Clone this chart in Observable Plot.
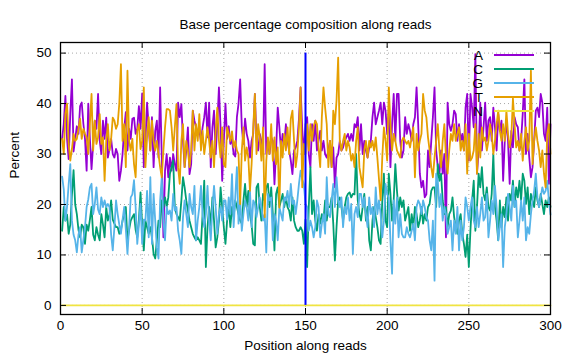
<!DOCTYPE html>
<html>
<head>
<meta charset="utf-8">
<script src="https://cdn.jsdelivr.net/npm/d3@7"></script>
<script src="https://cdn.jsdelivr.net/npm/@observablehq/plot@0.6"></script>
<style>
  html, body { margin: 0; padding: 0; background: #ffffff; }
  #chart { width: 576px; height: 360px; }
</style>
</head>
<body>
<div id="chart"></div>
<script>
// ---- Data ----
const titleText = "Base percentage composition along reads";
const xLabel = "Position along reads";
const yLabel = "Percent";
const baseNames = ["A", "C", "G", "T", "N"];
const baseColors = ["#9400d3", "#009e73", "#56b4e9", "#e69f00", "#f0e442"];
const xTicks = [0, 50, 100, 150, 200, 250, 300];
const yTicks = [0, 10, 20, 30, 40, 50];
const xDomain = [0, 300];
const yDomain = [-1.8, 52.1];
const markerPos = [150];
const markerRange = [0, 50];

const positions = d3.range(1, 301);

const aPct = [
  33, 36, 41.5, 33, 29, 38, 44.8, 30.5, 33, 35.5,
  34, 39.5, 40.2, 36, 33, 26.7, 40, 33, 27, 32,
  36.6, 35, 41.9, 32.7, 30, 36.6, 33, 37.2, 29.3, 31,
  33, 30, 29.3, 31, 30, 24.7, 26.7, 30, 35, 38.3,
  30.7, 35, 33, 37, 37.2, 34, 35, 39.5, 35, 42,
  27.4, 32.6, 40.2, 35.3, 30.7, 37.3, 27.4, 34.6, 36.6, 29.3,
  43.2, 29.3, 13.5, 26.7, 30, 25.4, 29.3, 26.7, 30, 28,
  26.7, 40.2, 37.3, 39.9, 32.6, 27.4, 30.7, 35.3, 26, 28,
  38.6, 36.6, 35.3, 34, 34.6, 32.6, 35.3, 37.3, 40.2, 33.3,
  40.2, 27.4, 35.3, 38.6, 30, 35.9, 43.2, 35.3, 24.7, 32.6,
  40, 33, 35.5, 32, 33, 30, 29.5, 37.3, 40, 44.8,
  35.3, 32, 37, 34, 32.6, 29.3, 32.6, 34, 41.9, 32.6,
  30.7, 34, 32.6, 30.7, 47.8, 30, 32.6, 30, 33.3, 32.6,
  24, 30.7, 39.2, 35.3, 30.7, 34, 32, 35.9, 32.6, 30.7,
  28.7, 26, 30.7, 31.3, 32.6, 37, 43.2, 35, 30, 35.9,
  37.3, 30, 27.4, 35.9, 32.6, 36.6, 30.7, 32.6, 34.6, 30.7,
  32.6, 30, 29.3, 30.7, 32.6, 27.4, 31.3, 23.4, 29.3, 30,
  32.6, 30.7, 31.3, 32.6, 33.3, 34, 32.6, 34, 32.6, 35.9,
  35.3, 37.3, 30.7, 35.9, 30, 32.6, 30.7, 29.3, 31.3, 32.6,
  37.3, 40.2, 35.9, 37.3, 38.6, 40.2, 35.9, 40.2, 38.6, 34,
  38.6, 27.4, 35.9, 41.9, 32.6, 41.9, 41.9, 32.6, 29.3, 30.7,
  37.3, 34, 35.9, 34.6, 32.6, 35.9, 37.3, 43.2, 35.9, 26.1,
  23.4, 24.7, 21.4, 22, 30.7, 27.4, 32.6, 37.3, 43.2, 30.7,
  27.4, 26.1, 30.7, 26.1, 30, 13.5, 40.2, 35.9, 34.6, 35.9,
  38.6, 37.9, 32.6, 35.9, 32.6, 34, 30.7, 39.2, 41.9, 28.7,
  41.9, 39.2, 35.3, 49.8, 26.1, 30.7, 40.2, 30.7, 35.3, 40.2,
  32.6, 36.6, 37.3, 32.6, 39.2, 35.3, 30.7, 37.9, 34.6, 36.6,
  24.7, 32.6, 36.6, 32.6, 24.1, 34.6, 31.3, 37.3, 35.9, 35.3,
  30.7, 32.6, 38, 44.8, 30, 34, 29.3, 25.4, 27.4, 32.6,
  38.6, 39.2, 37.3, 41.9, 40.2, 34, 32.6, 39.2, 24.1, 35.9
];

const cPct = [
  14.8, 19.5, 16.8, 18, 14.2, 16, 22, 26.8, 20, 18.1,
  15, 13.5, 16, 15.5, 12.2, 16, 14.8, 17, 19.5, 14,
  12.9, 15.5, 14, 12.9, 18.1, 16, 13.5, 19.5, 16.8, 18,
  20.8, 17, 16.2, 15.5, 15.5, 14.2, 15, 16.8, 18, 19.5,
  12.9, 15, 16.8, 17.5, 18.1, 15, 13.5, 17, 22.4, 16,
  10.9, 16.8, 15.5, 14.2, 15.5, 13.5, 10.2, 9.3, 12.9, 16.8,
  15.5, 20.8, 19.5, 21.4, 19.5, 21.4, 26.1, 27.4, 28.7, 19.5,
  18.1, 17.5, 16.8, 20.8, 25.4, 23.4, 20.8, 18.8, 16.8, 15.5,
  14.2, 13.5, 12.9, 13.5, 12.9, 12.2, 18.1, 24.7, 7.6, 15.5,
  19.5, 15.5, 21.4, 16.8, 11.5, 13.5, 16.8, 23.4, 19.5, 15.5,
  12.2, 16.8, 19.5, 15.5, 19.5, 17.5, 20.8, 19.5, 18.1, 16.8,
  16.2, 20.8, 24.1, 19.5, 22.7, 18.1, 16, 12.2, 11.9, 23.4,
  24.1, 19.5, 16.8, 22.1, 20.8, 23.4, 24.1, 19.5, 23.4, 18.1,
  10.9, 22.1, 23.4, 19.5, 20.8, 22.1, 19.5, 21.4, 19.5, 18.8,
  16.8, 21.4, 16.8, 15.5, 14.8, 14.8, 15.5, 14.8, 12.2, 17,
  7.6, 19.5, 27.4, 18.1, 20.8, 16.8, 14.8, 18.1, 16.2, 18.1,
  16.8, 20.8, 16.8, 19.5, 19.5, 21.4, 16.2, 8.9, 15.5, 20.8,
  21.4, 19.5, 16.8, 19.5, 21.4, 22.1, 22.4, 21.4, 22.1, 22,
  30, 20.8, 18.1, 16.8, 19.5, 22.1, 16.8, 19.5, 12.9, 10.9,
  16.8, 19.5, 17.5, 15.5, 12.9, 12.2, 20.8, 26.1, 16.8, 15.5,
  26.1, 22.1, 16.8, 20.8, 28, 22.7, 18.8, 21.4, 19.5, 20.8,
  16.8, 18.1, 19.5, 14.8, 18.1, 15.5, 19.5, 18.1, 15.5, 16.8,
  19.5, 16.2, 18.1, 16.8, 19.5, 20.1, 22.7, 23.4, 23.4, 19.5,
  28, 24.7, 26.1, 20.8, 18.1, 19.5, 15.5, 18.1, 18.8, 21.4,
  17.5, 15.5, 14.2, 16.8, 18.1, 14.2, 12.2, 9.6, 14, 7.6,
  15, 20.8, 24.7, 14.8, 19.5, 26.1, 23.4, 27.4, 22.1, 20.8,
  23.4, 19.5, 18.8, 22.1, 30, 19.5, 16.8, 12.9, 20.8, 15.5,
  19.5, 17.5, 21.4, 16.8, 22.1, 20.8, 24.7, 19.5, 23.4, 21.4,
  24.7, 20.8, 26.1, 24.7, 20.1, 23.4, 18.1, 22.1, 20.8, 19.5,
  23.4, 20.8, 19.5, 22.1, 20.1, 18.1, 20.8, 19.5, 21.4, 19.5
];

const gPct = [
  25.5, 23, 16.8, 19.5, 24, 28, 16.8, 14, 12.9, 10.5,
  14, 15.5, 10.5, 13, 15.5, 19.5, 21, 23.4, 24.1, 18.1,
  20.1, 23.4, 19, 18.1, 21.4, 19.5, 20.8, 19.5, 20.1, 19.5,
  14, 10.9, 15.5, 20.8, 18.1, 16, 14.2, 17, 19.5, 15,
  10.2, 15.5, 21.4, 22, 24.8, 19.5, 12.2, 16, 20.1, 12.2,
  17, 16.8, 22.7, 13.5, 25.4, 12.2, 22.1, 16.8, 11.5, 9.3,
  20.8, 25.4, 16.8, 12.9, 19.5, 18.1, 18.8, 16.8, 22.1, 18.8,
  19.5, 14.8, 12.9, 10.2, 17.5, 20.8, 18.1, 15.5, 22.1, 19.5,
  18.1, 23.7, 12.9, 16.8, 19.5, 23.7, 18.1, 15.5, 18.1, 23.7,
  16.8, 12.9, 19.5, 23.7, 19.5, 14.2, 18.1, 19.5, 16.8, 20.8,
  20.8, 17, 21.4, 18.1, 26, 15.5, 21.4, 27.4, 16.2, 20.8,
  14.8, 18.1, 20.8, 19.5, 16.8, 22.7, 15.5, 20.8, 20.1, 17.5,
  19.5, 21.4, 19.5, 16.8, 18.1, 10.5, 22.1, 20.8, 21.4, 12.9,
  18.1, 16.8, 12.9, 19.5, 18.1, 16.8, 21.4, 20.8, 22.7, 19.5,
  24.1, 20.1, 20.8, 18.1, 20.8, 24.1, 26.7, 25, 24, 20.1,
  19.5, 14.8, 16.8, 15.5, 13.5, 15.5, 20.8, 19.5, 13.5, 16.2,
  18.1, 14.2, 25.4, 18.1, 17.5, 20.8, 24.1, 19.5, 25.4, 20.8,
  19.5, 21.4, 15.5, 19.5, 18.1, 21.4, 16.8, 20.1, 10.2, 18.1,
  19.5, 17.5, 22.1, 22.1, 19.5, 21.4, 18.1, 15.5, 21.4, 18.1,
  19.5, 15.5, 23.4, 18.1, 20.8, 18.1, 13.5, 16.8, 24.1, 22,
  21.4, 12.9, 6.3, 20.8, 16.2, 21.4, 13.5, 18.1, 14.2, 13.5,
  13.5, 15.5, 14.2, 13.5, 14.8, 16.2, 12.9, 19.5, 20.8, 20.1,
  18.1, 20.8, 19.5, 17.5, 16.8, 12.9, 10.9, 16.8, 4.9, 26.1,
  24.7, 19.5, 22.1, 16.8, 19.5, 18.1, 14.2, 15.5, 16.8, 10.9,
  16.8, 14.2, 19.5, 10.9, 16.8, 12.9, 15.5, 21.4, 19.5, 16.8,
  19.5, 21.4, 16.8, 15.5, 19.5, 15.5, 18.1, 21.4, 16.8, 17.5,
  22.1, 13.5, 16.8, 20.8, 18.1, 23.7, 19.5, 12.9, 15.5, 18.1,
  7.6, 15.5, 18.1, 22.1, 19.5, 16.8, 23.7, 19.5, 20.8, 13.5,
  16.8, 20.8, 16.8, 21.4, 12.9, 15.5, 14.2, 18.1, 20.8, 22.7,
  26.1, 21.4, 19.5, 21.4, 23.4, 22.1, 22.7, 24.7, 20.8, 18
];

const tPct = [
  33, 30, 38, 40, 32, 28.7, 31, 34, 32.6, 33,
  35, 37, 33, 35, 34, 33.3, 30, 36, 41.9, 30.7,
  36.6, 32, 33.3, 37.9, 32, 33.3, 24.7, 32.6, 35.9, 30.7,
  33, 37.2, 36.6, 35, 35.9, 40, 47.8, 32.6, 35.9, 27.4,
  46.5, 32.6, 30.7, 33, 28, 25.4, 34.6, 35.9, 31, 32.6,
  43.2, 27.4, 33.3, 37.3, 30.7, 36.6, 32.6, 30.7, 32.6, 30,
  27.4, 25.4, 30.7, 35.3, 38.9, 38.9, 38.6, 35.3, 30.7, 35.3,
  39.9, 27.4, 24.1, 32.6, 35.9, 27.4, 32.6, 30.7, 27.4, 30.7,
  38.6, 30.7, 35.9, 32.6, 37.9, 30.7, 34.6, 30, 32.6, 35.3,
  32.6, 29.3, 32.6, 27.4, 34.6, 39.2, 32.6, 29.3, 35.3, 28,
  27.4, 35.3, 34, 32.6, 34.5, 31.3, 32.6, 30.7, 30, 20.1,
  30.7, 35.3, 28.7, 31.3, 29.3, 22.7, 28, 35.3, 41.9, 30,
  35.9, 33.3, 28.7, 35.3, 17.5, 28.7, 33.3, 30, 35.9, 28.7,
  33.3, 28, 31.3, 19.4, 32.6, 29.3, 34, 30.7, 35.3, 30,
  37, 38.6, 32.6, 27.4, 30, 35.3, 43.2, 23.4, 32, 30,
  35.9, 30.7, 35.9, 32.6, 35.5, 36.6, 35.9, 31.3, 27.4, 37.3,
  43.2, 39.2, 35.9, 27.4, 32.6, 27.4, 38.6, 35.9, 40.6, 49.1,
  32.6, 30.7, 32.6, 34, 30.7, 32.6, 31.3, 28.7, 30, 27.4,
  32.6, 35.3, 27.4, 25.4, 23.4, 30.7, 32.6, 29.3, 32.6, 31.3,
  32.6, 30.7, 33.3, 29.3, 25, 20.8, 29.3, 35.3, 32.6, 28.7,
  43.2, 35.9, 30.7, 34, 32.6, 30.7, 30, 29.3, 32.6, 33.3,
  32.6, 32, 32.6, 31.3, 33.3, 35.3, 25.4, 34, 30.7, 32.6,
  34, 41.9, 38.6, 37.3, 33.3, 30.7, 27.4, 25.4, 29.3, 32.6,
  35.9, 30.7, 27.4, 32.6, 35.9, 29.3, 26.1, 30.7, 34, 32.6,
  35.9, 32.6, 34, 35.3, 30.7, 32.6, 30.7, 35.9, 26.1, 34,
  28.7, 29.3, 30.7, 35.9, 26.1, 34, 29.3, 35.3, 32.6, 33.3,
  30.7, 32.6, 35.9, 34, 30, 32.6, 35.9, 38.6, 34.6, 32.6,
  35.9, 32.6, 38.6, 34, 31.3, 33.3, 41, 35.9, 31.3, 32.6,
  30.7, 34, 28.7, 32.6, 35.3, 30.7, 32.6, 46.5, 28, 32.6,
  35.3, 32.6, 30.7, 27.4, 30.7, 26.1, 23.4, 34, 35.9, 30
];

const nPct = [
  0,0,0,0,0,0,0,0,0,0,0,0,0,0,0,0,0,0,0,0,0,0,0,0,0,0,0,0,0,0,
  0,0,0,0,0,0,0,0,0,0,0,0,0,0,0,0,0,0,0,0,0,0,0,0,0,0,0,0,0,0,
  0,0,0,0,0,0,0,0,0,0,0,0,0,0,0,0,0,0,0,0,0,0,0,0,0,0,0,0,0,0,
  0,0,0,0,0,0,0,0,0,0,0,0,0,0,0,0,0,0,0,0,0,0,0,0,0,0,0,0,0,0,
  0,0,0,0,0,0,0,0,0,0,0,0,0,0,0,0,0,0,0,0,0,0,0,0,0,0,0,0,0,0,
  0,0,0,0,0,0,0,0,0,0,0,0,0,0,0,0,0,0,0,0,0,0,0,0,0,0,0,0,0,0,
  0,0,0,0,0,0,0,0,0,0,0,0,0,0,0,0,0,0,0,0,0,0,0,0,0,0,0,0,0,0,
  0,0,0,0,0,0,0,0,0,0,0,0,0,0,0,0,0,0,0,0,0,0,0,0,0,0,0,0,0,0,
  0,0,0,0,0,0,0,0,0,0,0,0,0,0,0,0,0,0,0,0,0,0,0,0,0,0,0,0,0,0,
  0,0,0,0,0,0,0,0,0,0,0,0,0,0,0,0,0,0,0,0,0,0,0,0,0,0,0,0,0,0
];

// ---- Build table for Plot ----
const seriesValues = [aPct, cPct, gPct, tPct, nPct];
const rows = [];
baseNames.forEach((b, k) => {
  seriesValues[k].forEach((v, i) => rows.push({pos: positions[i], pct: v, base: b}));
});

const W = 576, H = 360;
const mL = 60, mR = 26, mT = 42, mB = 46;
const innerW = W - mL - mR, innerH = H - mT - mB;
const tickLen = 6;
const fs = 13.5;
const font = "'Liberation Sans', Arial, Helvetica, sans-serif";

const chart = Plot.plot({
  width: W, height: H,
  marginLeft: mL, marginRight: mR, marginTop: mT, marginBottom: mB,
  style: {fontFamily: font, fontSize: fs + "px", background: "#ffffff", color: "#000000", overflow: "visible"},
  x: {domain: xDomain, axis: null},
  y: {domain: yDomain, axis: null},
  color: {domain: baseNames, range: baseColors},
  marks: [
    Plot.gridX(xTicks, {stroke: "#a8a8a8", strokeOpacity: 1, strokeDasharray: "1,3", strokeWidth: 1}),
    Plot.gridY(yTicks, {stroke: "#a8a8a8", strokeOpacity: 1, strokeDasharray: "1,3", strokeWidth: 1}),
    Plot.line(rows, {x: "pos", y: "pct", z: "base", stroke: "base", strokeWidth: 1.8, curve: "linear"}),
    Plot.ruleX(markerPos, {y1: markerRange[0], y2: markerRange[1], stroke: "#0000ff", strokeWidth: 2}),
    // inward ticks (gnuplot style) on all four sides
    Plot.tickY(yTicks, {y: d => d, stroke: "#000", insetRight: innerW - tickLen}),
    Plot.tickY(yTicks, {y: d => d, stroke: "#000", insetLeft: innerW - tickLen}),
    Plot.tickX(xTicks, {x: d => d, stroke: "#000", insetTop: innerH - tickLen}),
    Plot.tickX(xTicks, {x: d => d, stroke: "#000", insetBottom: innerH - tickLen}),
    Plot.frame({stroke: "#000", strokeWidth: 1.3}),
    Plot.axisY(yTicks, {anchor: "left", tickSize: 0, tickPadding: 9, fontSize: fs, label: null}),
    Plot.axisX(xTicks, {anchor: "bottom", tickSize: 0, tickPadding: 6, fontSize: fs, label: null}),
    Plot.text([xLabel], {frameAnchor: "bottom", dy: 35, fontSize: fs, text: d => d}),
    Plot.text([yLabel], {frameAnchor: "left", dx: -46, rotate: -90, fontSize: fs, text: d => d}),
    Plot.text([titleText], {frameAnchor: "top", dy: -23, fontSize: fs, text: d => d})
  ]
});

document.getElementById("chart").appendChild(chart);

// ---- Legend (gnuplot key, top-right inside the frame) ----
const svg = d3.select(chart);
const key = svg.append("g").attr("class", "key");
baseNames.forEach((b, i) => {
  const yy = 55 + i * 14;
  key.append("text")
    .attr("x", 483).attr("y", yy)
    .attr("text-anchor", "end").attr("dominant-baseline", "central")
    .attr("font-family", font).attr("font-size", fs)
    .text(b);
  key.append("line")
    .attr("x1", 494).attr("x2", 534).attr("y1", yy).attr("y2", yy)
    .attr("stroke", baseColors[i]).attr("stroke-width", 2);
});
</script>
</body>
</html>
